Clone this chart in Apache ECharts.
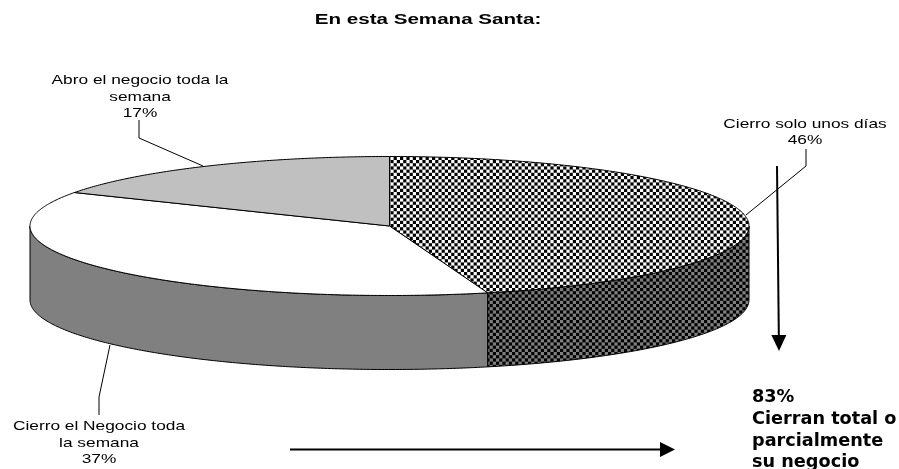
<!DOCTYPE html>
<html>
<head>
<meta charset="utf-8">
<title>En esta Semana Santa</title>
<script src="https://cdn.jsdelivr.net/npm/echarts@6/dist/echarts.min.js"></script>
<style>
  html, body { margin: 0; padding: 0; background: #fff; }
  #chart { width: 899px; height: 469px; }
</style>
</head>
<body>
<div id="chart"></div>
<script>
// clockwise from 12 o'clock
const sliceNames = ["Cierro solo unos días", "Cierro el Negocio toda\nla semana", "Abro el negocio toda la\nsemana"];
const sliceValues = [45.6, 37.4, 17];
const titleText = "En esta Semana Santa:";
const noteLines = ["83%", "Cierran total o", "parcialmente", "su negocio"];

const CX = 389.5, CY = 226, RX = 359.5, RY = 69.5, DEPTH = 74;
const total = sliceValues.reduce((a, b) => a + b, 0);

// 5 periods of a 6.4px checker, the fractional edges give the soft grey seams
function checker(dark, light) {
  const c = document.createElement("canvas");
  c.width = c.height = 32;
  const g = c.getContext("2d");
  g.fillStyle = light;
  g.fillRect(0, 0, 32, 32);
  g.fillStyle = dark;
  for (let r = 0; r < 10; r++) {
    for (let k = 0; k < 10; k++) {
      if ((r + k) % 2 === 0) g.fillRect(k * 3.2, r * 3.2, 3.2, 3.2);
    }
  }
  return { image: c, repeat: "repeat" };
}

const topFills = [checker("#000", "#fff"), "#fff", "#c0c0c0"];
const sideFills = [checker("#000", "#808080"), "#808080", "#808080"];

function rimPoint(t, drop) {
  return [CX + RX * Math.sin(t), CY - RY * Math.cos(t) + (drop || 0)];
}

function arcPoints(a, b, drop) {
  const pts = [];
  const n = Math.max(2, Math.ceil(Math.abs(b - a) / 0.01));
  for (let i = 0; i <= n; i++) pts.push(rimPoint(a + (b - a) * i / n, drop));
  return pts;
}

function renderSlice(params, api) {
  const i = params.dataIndex;
  let before = 0;
  for (let k = 0; k < i; k++) before += sliceValues[k];
  const a = before / total * Math.PI * 2;
  const b = (before + api.value(1)) / total * Math.PI * 2;
  const children = [];
  // only the rim between 3 and 9 o'clock faces the viewer
  const sa = Math.max(a, Math.PI / 2), sb = Math.min(b, Math.PI * 1.5);
  if (sb > sa) {
    children.push({
      type: "polygon",
      shape: { points: arcPoints(sa, sb, 0).concat(arcPoints(sb, sa, DEPTH)) },
      style: { fill: sideFills[i], stroke: "#000", lineWidth: 1 }
    });
  }
  children.push({
    type: "polygon",
    shape: { points: [[CX, CY]].concat(arcPoints(a, b, 0)) },
    style: { fill: topFills[i], stroke: "#000", lineWidth: 1 }
  });
  return { type: "group", children: children };
}

function label(text, x, y, scaleX) {
  return {
    type: "text", x: x, y: y, scaleX: scaleX, z: 10,
    style: {
      text: text, align: "center", verticalAlign: "middle",
      fontFamily: "Liberation Sans", fontSize: 13, lineHeight: 16.5, fill: "#000"
    }
  };
}

function leader(points) {
  return { type: "polyline", z: 5, shape: { points: points }, style: { stroke: "#000", lineWidth: 1, fill: null } };
}

function arrow(from, to, head) {
  const ang = Math.atan2(to[1] - from[1], to[0] - from[0]);
  const bx = to[0] - head * Math.cos(ang), by = to[1] - head * Math.sin(ang);
  const nx = -Math.sin(ang) * 7.5, ny = Math.cos(ang) * 7.5;
  return [
    { type: "line", z: 6, shape: { x1: from[0], y1: from[1], x2: bx, y2: by }, style: { stroke: "#000", lineWidth: 2 } },
    { type: "polygon", z: 6, shape: { points: [to, [bx + nx, by + ny], [bx - nx, by - ny]] }, style: { fill: "#000" } }
  ];
}

function pct(i) {
  return Math.round(sliceValues[i] / total * 100) + "%";
}

const chart = echarts.init(document.getElementById("chart"));
chart.setOption({
  animation: false,
  series: [{
    type: "custom",
    coordinateSystem: "none",
    silent: true,
    renderItem: renderSlice,
    data: sliceValues.map((v, i) => [i, v])
  }],
  graphic: [
    {
      type: "text", x: 428, y: 20, scaleX: 1.47,
      style: { text: titleText, align: "center", verticalAlign: "middle", fontFamily: "Liberation Sans", fontWeight: "bold", fontSize: 14, fill: "#000" }
    },
    label(sliceNames[0] + "\n" + pct(0), 805, 132.5, 1.33),
    label(sliceNames[1] + "\n" + pct(1), 99, 443, 1.33),
    label(sliceNames[2] + "\n" + pct(2), 140, 97, 1.33),
    leader([[806, 149], [806, 166], [746, 215]]),
    leader([[99, 415], [99, 397], [110, 345]]),
    leader([[139, 120], [139, 138], [203, 166]]),
    ...arrow([777, 166], [779, 351], 16),
    ...arrow([290, 449.5], [675, 449.5], 15),
    ...noteLines.map((t, i) => ({
      type: "text", x: 752, y: 398 + i * 21.6, scaleX: 1.04,
      style: { text: t, align: "left", verticalAlign: "middle", fontFamily: "DejaVu Sans", fontWeight: "bold", fontSize: 17, fill: "#000" }
    }))
  ]
});
</script>
</body>
</html>
